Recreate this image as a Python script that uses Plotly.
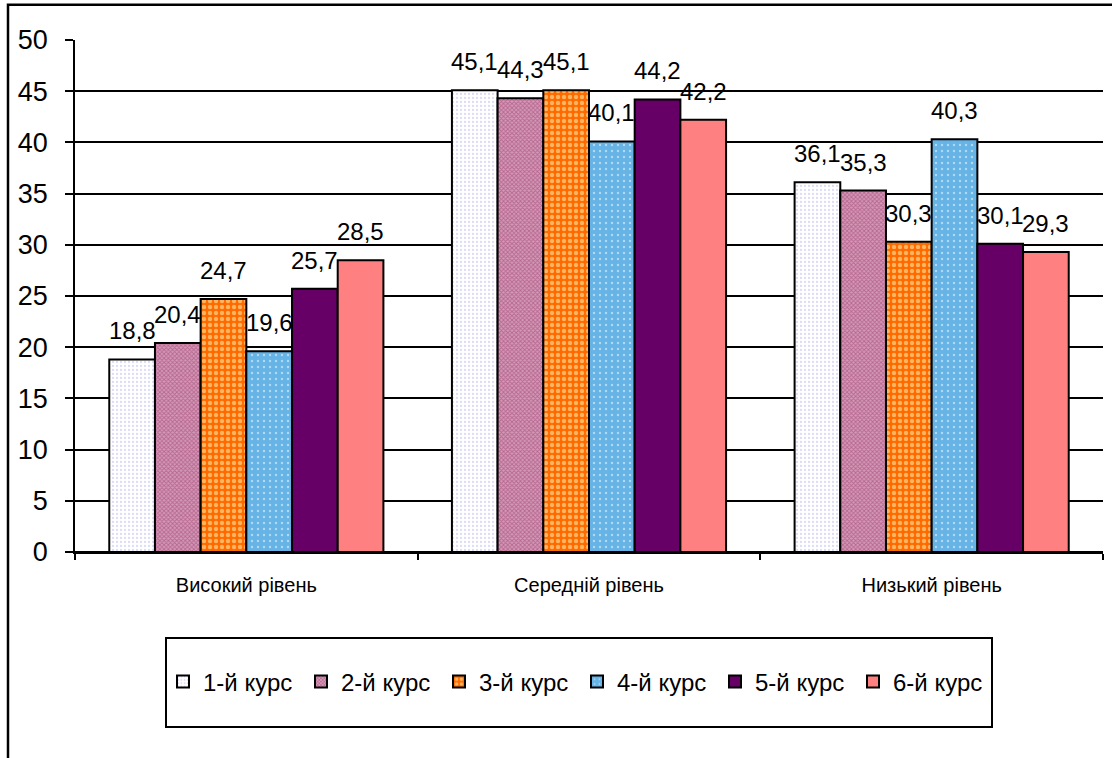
import plotly.graph_objects as go

categories = ["Високий рівень", "Середній рівень", "Низький рівень"]
series_names = ["1-й курс", "2-й курс", "3-й курс", "4-й курс", "5-й курс", "6-й курс"]
kurs1 = [18.8, 45.1, 36.1]
kurs2 = [20.4, 44.3, 35.3]
kurs3 = [24.7, 45.1, 30.3]
kurs4 = [19.6, 40.1, 40.3]
kurs5 = [25.7, 44.2, 30.1]
kurs6 = [28.5, 42.2, 29.3]
y_ticks = [0, 5, 10, 15, 20, 25, 30, 35, 40, 45, 50]

all_series = [kurs1, kurs2, kurs3, kurs4, kurs5, kurs6]

styles = [
    dict(color="white", pattern=dict(shape=".", fgcolor="#b8b8f0", bgcolor="white", size=4, solidity=0.25, fillmode="overlay")),
    dict(color="#c47aa0", pattern=dict(shape="x", fgcolor="#993366", bgcolor="#d49ab8", size=3, solidity=0.5, fillmode="overlay")),
    dict(color="#ff6600", pattern=dict(shape=".", fgcolor="#ffffc0", bgcolor="#ff6a00", size=6, solidity=0.42, fillmode="overlay")),
    dict(color="#66b3e6", pattern=dict(shape=".", fgcolor="white", bgcolor="#66b3e6", size=6, solidity=0.12, fillmode="overlay")),
    dict(color="#660066"),
    dict(color="#ff8080"),
]

FONT = "Liberation Sans, Arial, sans-serif"
fig = go.Figure()
for name, vals, st in zip(series_names, all_series, styles):
    marker = dict(color=st["color"], line=dict(color="black", width=2))
    if "pattern" in st:
        marker["pattern"] = st["pattern"]
    fig.add_trace(go.Bar(name=name, x=categories, y=vals, marker=marker))

# data labels placed above each bar
bargap = 0.2
n = len(all_series)
w = (1 - bargap) / n
annotations = []
for i, vals in enumerate(all_series):
    for j, v in enumerate(vals):
        annotations.append(dict(
            x=j + (i - (n - 1) / 2) * w, y=v, xref="x", yref="y",
            text=f"{v:.1f}".replace(".", ","), showarrow=False,
            yanchor="bottom", yshift=13,
            font=dict(family=FONT, size=24, color="black")))

shapes = [
    # outer frame (left and top edges visible)
    dict(type="rect", xref="paper", yref="paper",
         x0=(8 - 75) / 1028, x1=1.05, y0=(552 - 800) / 512, y1=(552 - 4.7) / 512,
         line=dict(color="black", width=2.5), fillcolor="rgba(0,0,0,0)", layer="below"),
    # legend box
    dict(type="rect", xref="paper", yref="paper",
         x0=(166 - 75) / 1028, x1=(992 - 75) / 1028, y0=(552 - 727) / 512, y1=(552 - 638) / 512,
         line=dict(color="black", width=2), fillcolor="rgba(0,0,0,0)"),
]

fig.update_layout(
    width=1112, height=758,
    margin=dict(l=75, r=9, t=40, b=206),
    paper_bgcolor="white", plot_bgcolor="white",
    barmode="group", bargap=bargap, bargroupgap=0,
    font=dict(family=FONT, color="black"),
    showlegend=True,
    legend=dict(orientation="h", x=(163 - 75) / 1028, xanchor="left",
                y=(552 - 682) / 512, yanchor="middle",
                font=dict(family=FONT, size=24, color="black"),
                itemwidth=30, entrywidth=93, traceorder="normal",
                bgcolor="rgba(0,0,0,0)"),
    annotations=annotations,
    shapes=shapes,
    xaxis=dict(showline=True, linecolor="black", linewidth=1.5,
               ticks="outside", tickson="boundaries", ticklen=6, tickcolor="black", tickwidth=1.5,
               tickfont=dict(family=FONT, size=20, color="black"),
               ticklabelstandoff=14, showgrid=False),
    yaxis=dict(range=[0, 50], tickvals=y_ticks, showline=True, linecolor="black", linewidth=1.5,
               ticks="outside", ticklen=8, tickcolor="black", tickwidth=1.5,
               tickfont=dict(family=FONT, size=27, color="black"),
               ticklabelstandoff=12,
               showgrid=True, gridcolor="black", gridwidth=1.5,
               zeroline=True, zerolinecolor="black", zerolinewidth=1.5),
)

fig.write_html("out.html")
